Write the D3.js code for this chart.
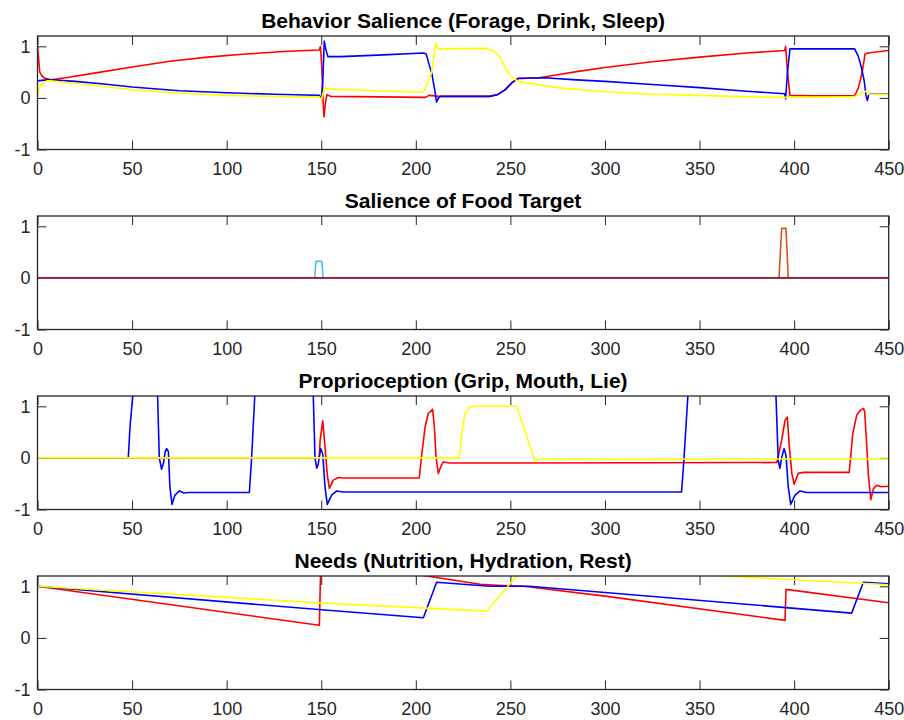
<!DOCTYPE html>
<html>
<head>
<meta charset="utf-8">
<script src="https://cdn.jsdelivr.net/npm/d3@7"></script>
<style>
  body { margin: 0; background: #fff; }
  svg { font-family: "Liberation Sans", Arial, Helvetica, sans-serif; }
</style>
</head>
<body>
<svg id="chart"></svg>
<script>
// x ticks shared by all panels
const xTicks = [0, 50, 100, 150, 200, 250, 300, 350, 400, 450];
const yTicks = [-1, 0, 1];
const titles = [
  "Behavior Salience (Forage, Drink, Sleep)",
  "Salience of Food Target",
  "Proprioception (Grip, Mouth, Lie)",
  "Needs (Nutrition, Hydration, Rest)"
];

// panel 1 - behaviour salience  [time, value]
const salForage = [[0,1.0],[0.6,0.75],[1.2,0.5],[2.5,0.42],[4,0.38],[7,0.35],[15,0.39],[30,0.48],[50,0.6],[70,0.71],[90,0.79],[110,0.85],[130,0.9],[149,0.93],[149.6,1.0],[150.3,0.6],[151,-0.1],[151.5,-0.37],[152.2,-0.1],[153,0.06],[155,0.03],[180,0.02],[205,0.01],[207,0.05],[210,0.04],[212,0.03],[239,0.03],[243,0.06],[247,0.15],[251,0.3],[254,0.37],[265,0.39],[275,0.45],[285,0.51],[300,0.59],[325,0.7],[350,0.79],[375,0.87],[395,0.92],[395.5,1.0],[396.5,0.5],[397.8,0.05],[410,0.04],[432,0.04],[434,0.2],[436,0.5],[437.5,0.85],[439,0.87],[450,0.92]];
const salDrink = [[0,0.33],[5,0.35],[7,0.35],[20,0.32],[35,0.27],[50,0.21],[75,0.14],[100,0.1],[125,0.07],[149,0.05],[150,-0.03],[150.8,0.3],[151.6,1.1],[152.4,0.95],[153.5,0.8],[160,0.8],[180,0.83],[204,0.87],[205.5,0.85],[207,0.65],[208.5,0.47],[210,0.15],[211,-0.08],[212,0.0],[213,0.03],[239,0.03],[243,0.06],[247,0.15],[251,0.3],[254,0.38],[268,0.39],[285,0.35],[300,0.32],[325,0.26],[350,0.2],[375,0.13],[395,0.08],[395.5,-0.02],[396.5,0.5],[397.8,0.95],[432,0.95],[434,0.8],[435.5,0.6],[437,0.34],[438,0.05],[438.7,-0.05],[439.5,0.07],[450,0.07]];
const salSleep = [[0,0.0],[1,0.2],[2.2,0.28],[5,0.33],[7,0.33],[20,0.28],[35,0.22],[50,0.16],[75,0.09],[100,0.05],[125,0.03],[149,0.02],[150,-0.04],[151,0.1],[152,0.2],[154,0.17],[180,0.14],[204,0.11],[205.7,0.24],[208.4,0.5],[210,0.92],[210.6,1.06],[211.9,0.95],[237,0.96],[241,0.92],[244.6,0.79],[248.1,0.53],[251.6,0.37],[255,0.31],[275,0.2],[300,0.12],[325,0.07],[350,0.05],[375,0.02],[395,0.01],[431.5,0.02],[436,0.1],[437.9,0.13],[439.5,0.07],[450,0.06]];

// panel 2 - salience of food targets (7 targets, mostly zero)
const food1 = [[0,0],[450,0]];
const food2 = [[0,0],[392,0],[393.4,0.96],[395.7,0.96],[396.9,0],[450,0]];
const food3 = [[0,0],[450,0]];
const food4 = [[0,0],[450,0]];
const food5 = [[0,0],[450,0]];
const food6 = [[0,0],[146.5,0],[147.3,0.32],[150.3,0.32],[151,0],[450,0]];
const food7 = [[0,0],[450,0]];

// panel 3 - proprioception
const propMouth = [[0,0],[148.5,0],[149,0.05],[149.4,0.34],[150.8,0.72],[152,0.21],[153.2,-0.33],[154.3,-0.59],[156.4,-0.43],[159,-0.38],[161.7,-0.39],[201.8,-0.39],[203.1,0.05],[204.9,0.6],[206.6,0.86],[208.9,0.94],[209.8,0.6],[210.7,0.02],[211.9,-0.3],[213.2,-0.17],[214.5,-0.08],[218,-0.1],[390.8,-0.09],[391.6,0.03],[393.4,0.34],[395.2,0.73],[396.4,0.79],[397.5,0.2],[398.8,-0.3],[400,-0.51],[402.2,-0.3],[404.9,-0.28],[429.1,-0.28],[429.9,0.03],[431,0.47],[433.1,0.83],[435,0.92],[436.6,0.96],[437.3,0.9],[438.3,0.3],[439.2,-0.3],[440.5,-0.81],[441.9,-0.6],[443.6,-0.53],[446,-0.56],[450,-0.55]];
const propGrip = [[0,0],[48,0],[48.9,0.6],[50.3,1.18],[51,1.5],[63,1.5],[63.5,1.2],[64.4,0],[65.6,-0.22],[66.6,-0.1],[67.5,0.12],[68.3,0.18],[69.2,0.12],[70,-0.56],[71.1,-0.9],[72.7,-0.72],[75,-0.64],[77.5,-0.68],[80,-0.67],[112,-0.67],[113.2,0],[115,1.3],[116,1.5],[145,1.5],[145.8,1.2],[146.7,0],[147.6,-0.2],[148.4,-0.12],[149.7,0.18],[150.8,0.08],[152,-0.56],[153.2,-0.9],[155.5,-0.72],[158.2,-0.64],[161.7,-0.66],[340.5,-0.66],[341.8,0],[344,1.3],[345,1.5],[390,1.5],[390.4,1.2],[391.6,-0.05],[392.5,-0.2],[393.4,0],[394.7,0.18],[395.7,0.05],[396.9,-0.56],[398.2,-0.9],[400.5,-0.72],[403.1,-0.64],[406.6,-0.67],[450,-0.67]];
const propLie = [[0,0],[223,0],[224.3,0.47],[226,0.86],[228.6,0.99],[232.2,1.0],[253.3,1.0],[263,-0.06],[265.6,-0.02],[450,-0.02]];

// panel 4 - needs
const needNutrition = [[0,1.0],[149,0.245],[149.8,1.5],[204,1.21],[234,1.04],[243,1.02],[257,1.0],[300,0.81],[395.2,0.34],[395.7,0.94],[450,0.68]];
const needHydration = [[0,1.0],[148.5,0.55],[204,0.39],[211,1.08],[239,1.0],[260,1.0],[300,0.88],[430.4,0.48],[436.6,1.08],[450,1.05]];
const needRest = [[0,1.0],[148.5,0.68],[237.5,0.52],[249.8,1.05],[258,1.4],[363,1.2],[450,1.03]];

const panels = [
  { title: titles[0], series: [[salForage, "#ff0000"], [salDrink, "#0000ff"], [salSleep, "#ffff00"]] },
  { title: titles[1], series: [[food1, "#0072bd"], [food2, "#d95319"], [food3, "#edb120"], [food4, "#7e2f8e"], [food5, "#77ac30"], [food6, "#4dbeee"], [food7, "#a2142f"]] },
  { title: titles[2], series: [[propMouth, "#ff0000"], [propGrip, "#0000ff"], [propLie, "#ffff00"]] },
  { title: titles[3], series: [[needNutrition, "#ff0000"], [needHydration, "#0000ff"], [needRest, "#ffff00"]] }
];

var width = 904, height = 720;
var left = 37.5, plotW = 851.2, plotH = 113.5;
var tops = [36, 216, 396, 576];
var axisColor = "#262626";

var svg = d3.select("#chart").attr("width", width).attr("height", height);

var x = d3.scaleLinear().domain([0, 450]).range([0, plotW]);
var y = d3.scaleLinear().domain([-1, 1.2]).range([plotH, 0]);
var line = d3.line().x(d => x(d[0])).y(d => y(d[1]));

panels.forEach((p, i) => {
  var g = svg.append("g").attr("transform", "translate(" + left + "," + tops[i] + ")");

  svg.append("clipPath").attr("id", "clip" + i)
    .append("rect").attr("width", plotW).attr("height", plotH);

  // axes, ticks inside like matlab
  g.append("g").attr("transform", "translate(0," + plotH + ")")
    .call(d3.axisBottom(x).tickValues(xTicks).tickFormat(d => String(d)).tickSizeInner(-9).tickSizeOuter(0).tickPadding(13));
  g.append("g").call(d3.axisTop(x).tickValues(xTicks).tickSizeInner(-9).tickSizeOuter(0).tickFormat(""));
  g.append("g").call(d3.axisLeft(y).tickValues(yTicks).tickFormat(d => String(d)).tickSizeInner(-9).tickSizeOuter(0).tickPadding(7));
  g.append("g").attr("transform", "translate(" + plotW + ",0)")
    .call(d3.axisRight(y).tickValues(yTicks).tickSizeInner(-9).tickSizeOuter(0).tickFormat(""));

  g.selectAll(".domain").remove();
  g.selectAll(".tick line").attr("stroke", axisColor).attr("stroke-width", 1);
  g.selectAll(".tick text").attr("fill", axisColor).style("font-size", "18px")
    .style("font-family", "'Liberation Sans', Arial, Helvetica, sans-serif");

  var plot = g.append("g").attr("clip-path", "url(#clip" + i + ")");
  p.series.forEach(s => {
    plot.append("path").datum(s[0])
      .attr("d", line)
      .attr("fill", "none")
      .attr("stroke", s[1])
      .attr("stroke-width", 1.6)
      .attr("stroke-linejoin", "round");
  });

  g.append("rect").attr("width", plotW).attr("height", plotH)
    .attr("fill", "none").attr("stroke", axisColor).attr("stroke-width", 1.3);

  g.append("text")
    .attr("x", plotW / 2).attr("y", -8)
    .attr("text-anchor", "middle")
    .style("font-size", "21px").style("font-weight", "bold")
    .attr("fill", "#000")
    .text(p.title);
});
</script>
</body>
</html>
